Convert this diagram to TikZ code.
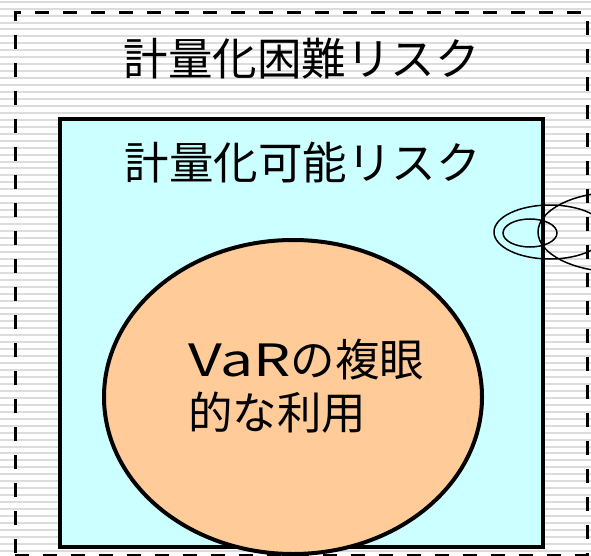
\documentclass[tikz,border=0pt]{standalone}
\usepackage{fontspec}
\setmainfont{Noto Sans CJK JP}
\usepackage{tikz}
\usetikzlibrary{positioning,shapes.geometric}
\definecolor{riskcyan}{HTML}{CCFFFF}
\definecolor{varpeach}{HTML}{FFCC99}
\definecolor{stripegray}{HTML}{DCDCDC}
\tikzset{
    %Define style for the outer box
    hardbox/.style={
           rectangle,
           draw=black, line width=3pt,
           dash pattern=on 14pt off 14pt,
           minimum width=572pt,
           minimum height=542pt},
    %Define style for the inner box
    quantbox/.style={
           rectangle,
           draw=black, line width=3.5pt,
           fill=riskcyan,
           minimum width=483pt,
           minimum height=428pt},
    varcore/.style={
           ellipse,
           draw=black, line width=4pt,
           fill=varpeach,
           minimum width=378pt,
           minimum height=314pt},
    bigtext/.style={
           inner sep=0pt,
           font=\fontsize{44.5}{53}\selectfont},
    % Define style for the small ring mark
    ring/.style={
           draw=black, line width=1.5pt}
}

\begin{document}
\begin{tikzpicture}[x=1pt,y=-1pt]

 \clip (0,0) rectangle (591,556);
 \fill[white] (0,0) rectangle (591,556);
 %stripes
 \foreach \k in {0,...,80}
    \draw[stripegray, line width=2pt] (0,1.7+6.95*\k) -- (591,1.7+6.95*\k);

 %nodes
 \node[hardbox] (outer) at (301,284) {};
 \node[quantbox] (inner) at (301.5,333) {};
 \node[varcore] (var) at (293,397) {};
 \node[bigtext] (hardlabel) at (301.5,59) {計量化困難リスク};
 \node[bigtext] (quantlabel) at (302.5,163) {計量化可能リスク};
 \node[bigtext, align=left, anchor=west] (varlabel) at (188,386)
    {\scalebox{1.32}[1]{VaR}の複眼\\的な利用};

 %ring mark on the right edge
 \draw[ring] (530,233) ellipse [x radius=27, y radius=14];
 \draw[ring] (550,232) ellipse [x radius=56, y radius=27];
 \draw[ring] (618,232) ellipse [x radius=80, y radius=40];
\end{tikzpicture}
\end{document}
